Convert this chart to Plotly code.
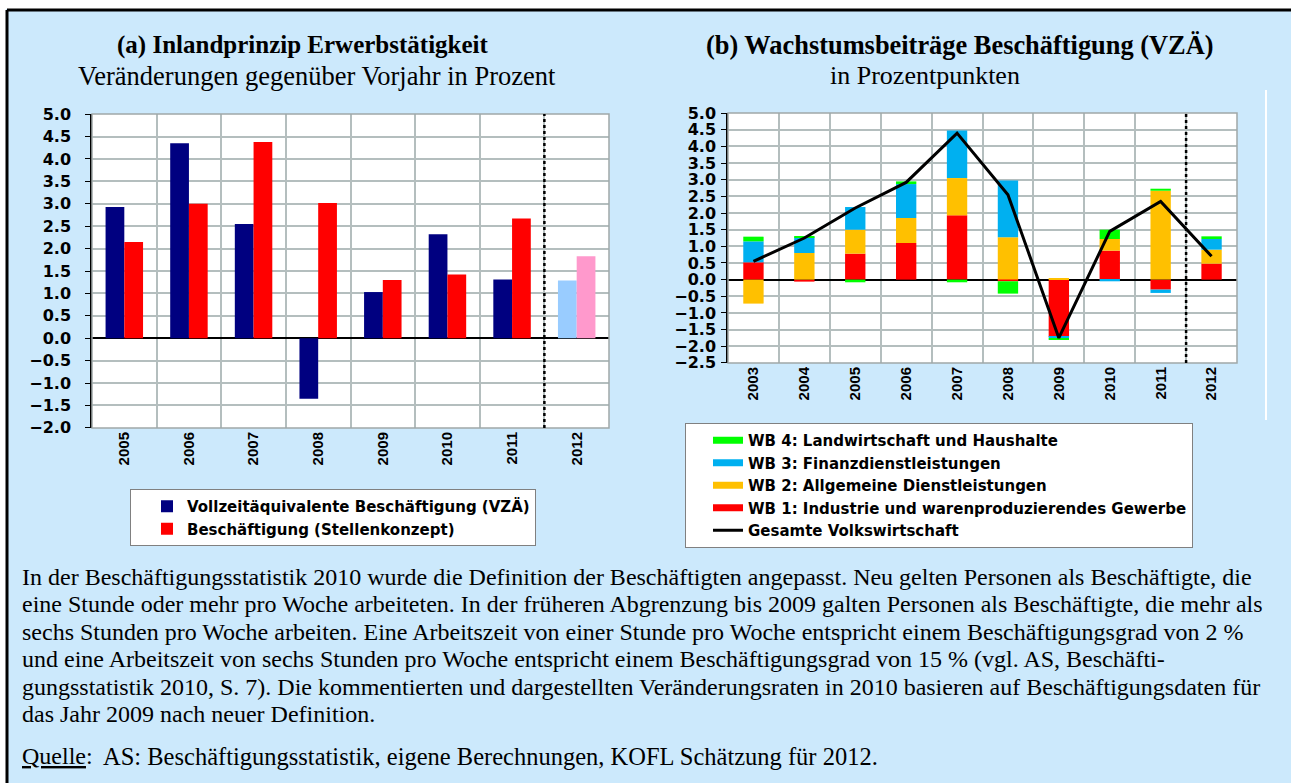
import numpy as np
import plotly.graph_objects as go

# (a) Inlandprinzip Erwerbstaetigkeit, Veraenderung gegenueber Vorjahr in %
years_a = ['2005', '2006', '2007', '2008', '2009', '2010', '2011', '2012']
vza = [2.93, 4.35, 2.55, -1.35, 1.03, 2.32, 1.31, 1.29]
stellen = [2.15, 3.00, 4.38, 3.02, 1.30, 1.42, 2.67, 1.83]

# (b) Wachstumsbeitraege Beschaeftigung (VZAE), Prozentpunkte
years_b = ['2003', '2004', '2005', '2006', '2007', '2008', '2009', '2010', '2011', '2012']
wb1 = [0.52, -0.06, 0.78, 1.10, 1.93, -0.05, -1.72, 0.87, -0.30, 0.48]
wb2 = [-0.72, 0.80, 0.72, 0.75, 1.12, 1.27, 0.03, 0.35, 2.67, 0.42]
wb3 = [0.63, 0.47, 0.68, 1.02, 1.43, 1.71, -0.04, -0.05, -0.10, 0.32]
wb4 = [0.14, 0.02, -0.08, 0.08, -0.08, -0.37, -0.04, 0.28, 0.06, 0.08]
total = [0.55, 1.25, 2.15, 2.92, 4.40, 2.55, -1.75, 1.45, 2.35, 0.70]

text_lines = [
    "In der Beschäftigungsstatistik 2010 wurde die Definition der Beschäftigten angepasst. Neu gelten Personen als Beschäftigte, die",
    "eine Stunde oder mehr pro Woche arbeiteten. In der früheren Abgrenzung bis 2009 galten Personen als Beschäftigte, die mehr als",
    "sechs Stunden pro Woche arbeiten. Eine Arbeitszeit von einer Stunde pro Woche entspricht einem Beschäftigungsgrad von 2 %",
    "und eine Arbeitszeit von sechs Stunden pro Woche entspricht einem Beschäftigungsgrad von 15 % (vgl. AS, Beschäfti-",
    "gungsstatistik 2010, S. 7). Die kommentierten und dargestellten Veränderungsraten in 2010 basieren auf Beschäftigungsdaten für",
    "das Jahr 2009 nach neuer Definition.",
]
quelle = "AS: Beschäftigungsstatistik, eigene Berechnungen, KOFL Schätzung für 2012."

W, H = 1291, 783
BG = '#CCE9FC'
GRID = '#B4BEBE'
tickfont = dict(family='DejaVu Sans', size=16, color='black', weight='bold')
legfont = dict(family='DejaVu Sans', size=15, color='black', weight='bold')
xfont = dict(family='Liberation Sans', size=15, color='black', weight='bold')

fig = go.Figure()

xa = np.arange(len(years_a))
bw = 0.29
col_vza = ['#000080'] * 7 + ['#99CCFF']
col_st = ['#FF0000'] * 7 + ['#FF99CC']
fig.add_trace(go.Bar(x=xa - bw / 2, y=vza, width=bw, marker=dict(color=col_vza, line_width=0),
                     name='Vollzeitäquivalente Beschäftigung (VZÄ)', xaxis='x', yaxis='y', legend='legend'))
fig.add_trace(go.Bar(x=xa + bw / 2, y=stellen, width=bw, marker=dict(color=col_st, line_width=0),
                     name='Beschäftigung (Stellenkonzept)', xaxis='x', yaxis='y', legend='legend'))

xb = np.arange(len(years_b))
series = [('WB 1: Industrie und warenproduzierendes Gewerbe', wb1, '#FF0000', 4),
          ('WB 2: Allgemeine Dienstleistungen', wb2, '#FFC000', 3),
          ('WB 3: Finanzdienstleistungen', wb3, '#00B0F0', 2),
          ('WB 4: Landwirtschaft und Haushalte', wb4, '#00FF00', 1)]
for name, vals, col, rank in series:
    fig.add_trace(go.Bar(x=xb, y=vals, width=0.4, marker=dict(color=col, line_width=0),
                         showlegend=False, xaxis='x2', yaxis='y2'))
    # legend entry drawn as a flat colour band
    fig.add_trace(go.Scatter(x=[None], y=[None], mode='lines', line=dict(color=col, width=7),
                             name=name, legend='legend2', legendrank=rank, xaxis='x2', yaxis='y2'))
fig.add_trace(go.Scatter(x=xb, y=total, mode='lines', line=dict(color='black', width=3),
                         name='Gesamte Volkswirtschaft', legend='legend2', legendrank=5,
                         xaxis='x2', yaxis='y2'))


def xax(n, labels, domain, anchor):
    return dict(domain=domain, anchor=anchor, range=[-0.5, n - 0.5], automargin=False,
                tickmode='array', tickvals=list(range(n)), ticktext=labels,
                tickangle=-90, tickfont=xfont, showgrid=False, zeroline=False,
                showline=False, ticks='',
                minor=dict(tick0=0.5, dtick=1, showgrid=True, gridcolor=GRID, gridwidth=1.5))


def yax(lo, hi, domain, anchor, standoff):
    return dict(domain=domain, anchor=anchor, range=[lo - 0.004, hi + 0.004], automargin=False,
                tickmode='linear', tick0=lo, dtick=0.5, tickformat='.1f',
                tickfont=tickfont, showgrid=True, gridcolor=GRID, gridwidth=1.5,
                zeroline=True, zerolinecolor='black', zerolinewidth=1.5,
                showline=True, linecolor='black', linewidth=1.5,
                ticks='outside', ticklen=5, tickcolor='black', ticklabelstandoff=standoff)


fig.update_layout(
    width=W, height=H, margin=dict(l=0, r=0, t=0, b=0, autoexpand=False),
    paper_bgcolor=BG, plot_bgcolor='white', barmode='relative',
    xaxis=xax(len(years_a), years_a, [92 / W, 609 / W], 'y'),
    yaxis=yax(-2.0, 5.0, [1 - 428 / H, 1 - 114 / H], 'x', 11),
    xaxis2=xax(len(years_b), years_b, [728 / W, 1237 / W], 'y2'),
    yaxis2=yax(-2.5, 5.0, [1 - 363 / H, 1 - 113 / H], 'x2', 2),
    legend=dict(x=130 / W, y=1 - 489 / H, xanchor='left', yanchor='top',
                bgcolor='white', bordercolor='#808080', borderwidth=1,
                font=legfont, indentation=16, tracegroupgap=0),
    legend2=dict(x=685 / W, y=1 - 423 / H, xanchor='left', yanchor='top',
                 bgcolor='white', bordercolor='#808080', borderwidth=1,
                 font=legfont, indentation=22, tracegroupgap=0),
)

shapes = [
    # white margin strips and black frame
    dict(type='rect', xref='paper', yref='paper', x0=0, x1=1, y0=1 - 9 / H, y1=1,
         fillcolor='white', line_width=0),
    dict(type='rect', xref='paper', yref='paper', x0=0, x1=6 / W, y0=0, y1=1,
         fillcolor='white', line_width=0),
    dict(type='line', xref='paper', yref='paper', x0=7 / W, x1=1, y0=1 - 10 / H, y1=1 - 10 / H,
         line=dict(color='black', width=3)),
    dict(type='line', xref='paper', yref='paper', x0=7 / W, x1=7 / W, y0=0, y1=1 - 10 / H,
         line=dict(color='black', width=3)),
    dict(type='line', xref='paper', yref='paper', x0=1266 / W, x1=1266 / W, y0=1 - 420 / H, y1=1 - 90 / H,
         line=dict(color='white', width=2)),
]
for xr, yr, n, cut in [('x', 'y', len(years_a), 6.5), ('x2', 'y2', len(years_b), 8.5)]:
    shapes.append(dict(type='rect', xref=xr + ' domain', yref=yr + ' domain', x0=0, x1=1, y0=0, y1=1,
                       line=dict(color='#A0A8A8', width=1.5), layer='above'))
    shapes.append(dict(type='line', xref=xr, yref=yr + ' domain', x0=cut, x1=cut, y0=0, y1=1,
                       line=dict(color='black', width=2.5, dash='dot')))
fig.update_layout(shapes=shapes)

serif = 'Liberation Serif'
ann = [
    dict(x=303 / W, y=1 - 45 / H, text='<b>(a) Inlandprinzip Erwerbstätigkeit</b>', font=dict(family=serif, size=25)),
    dict(x=317 / W, y=1 - 76 / H, text='Veränderungen gegenüber Vorjahr in Prozent', font=dict(family=serif, size=26.5)),
    dict(x=960 / W, y=1 - 45 / H, text='<b>(b) Wachstumsbeiträge Beschäftigung (VZÄ)</b>', font=dict(family=serif, size=26.4)),
    dict(x=925 / W, y=1 - 76 / H, text='in Prozentpunkten', font=dict(family=serif, size=26)),
]
for a in ann:
    a.update(xref='paper', yref='paper', showarrow=False, xanchor='center', yanchor='middle')
    a['font']['color'] = 'black'
for i, line in enumerate(text_lines):
    ann.append(dict(x=20 / W, y=1 - (577 + 27.4 * i) / H, text=line, xref='paper', yref='paper',
                    showarrow=False, xanchor='left', yanchor='middle',
                    font=dict(family=serif, size=24, color='black')))
ann.append(dict(x=20 / W, y=1 - 756 / H, text='<u>Quelle</u>:', xref='paper', yref='paper',
                showarrow=False, xanchor='left', yanchor='middle', font=dict(family=serif, size=24, color='black')))
ann.append(dict(x=101 / W, y=1 - 756 / H, text=quelle, xref='paper', yref='paper',
                showarrow=False, xanchor='left', yanchor='middle', font=dict(family=serif, size=24.5, color='black')))
fig.update_layout(annotations=ann)

fig.write_html("out.html", config={'displayModeBar': False},
               post_script="document.body.style.margin='0';document.body.style.overflow='hidden';"
                           "document.documentElement.style.overflow='hidden';")
